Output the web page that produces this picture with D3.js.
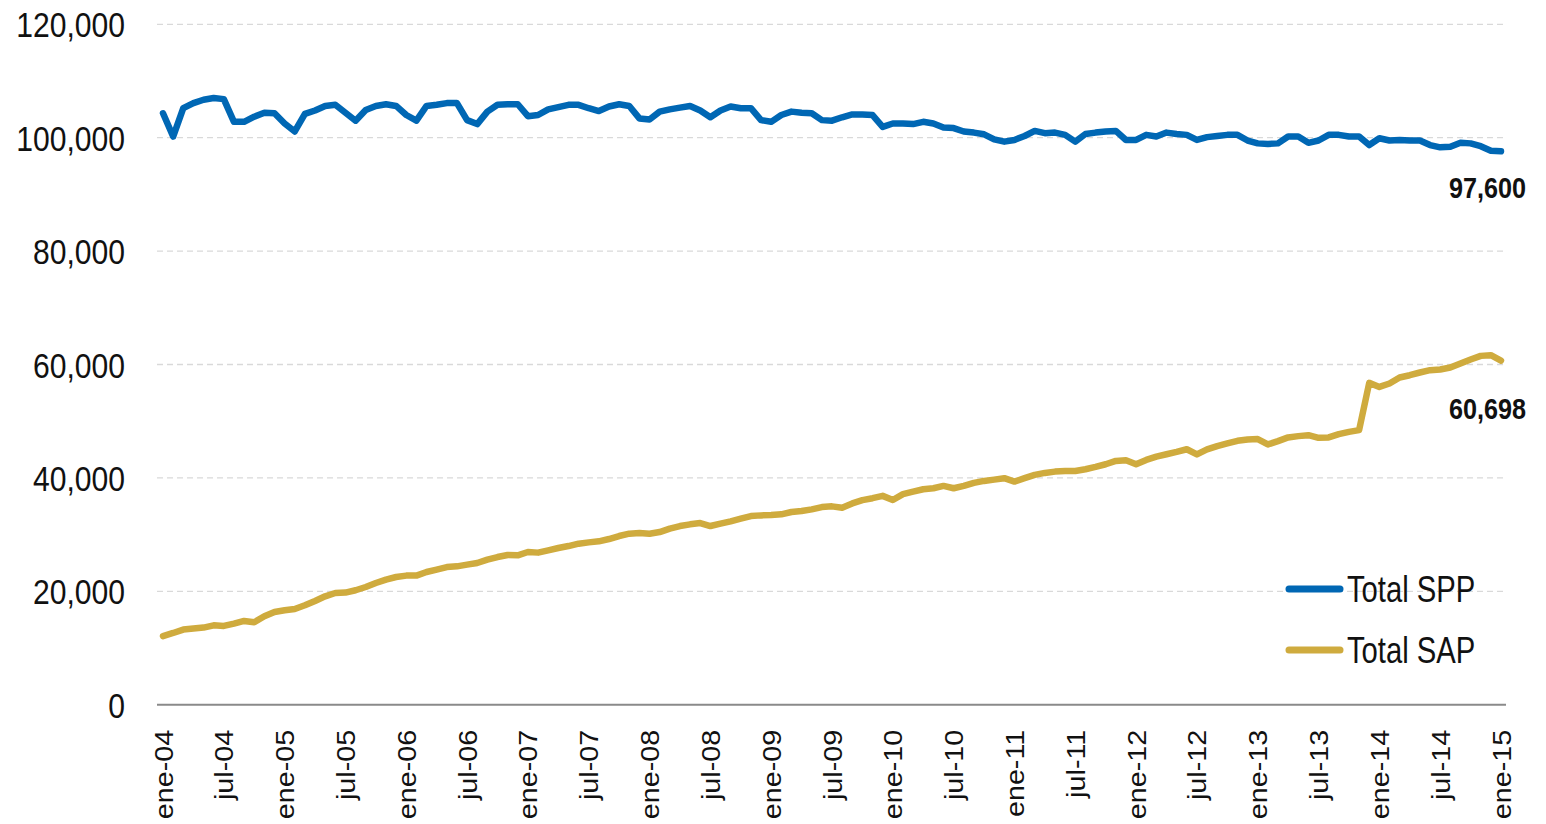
<!DOCTYPE html>
<html>
<head>
<meta charset="utf-8">
<script src="https://cdn.jsdelivr.net/npm/d3@7"></script>
<style>
  html, body { margin: 0; padding: 0; background: #fff; }
  svg { display: block; }
  text { font-family: "Liberation Sans", Arial, sans-serif; fill: #111; }
</style>
</head>
<body>
<svg id="chart" width="1546" height="824"></svg>
<script>
const monthNames = ["ene","feb","mar","abr","may","jun","jul","ago","sep","oct","nov","dic"];
const startYear = 2004, monthCount = 133;
const categories = d3.range(monthCount).map(i => monthNames[i % 12] + "-" + String((startYear + Math.floor(i / 12)) % 100).padStart(2, "0"));

const tickLabels = ["ene-04","jul-04","ene-05","jul-05","ene-06","jul-06","ene-07","jul-07","ene-08","jul-08","ene-09","jul-09","ene-10","jul-10","ene-11","jul-11","ene-12","jul-12","ene-13","jul-13","ene-14","jul-14","ene-15"];
const yTicks = [0, 20000, 40000, 60000, 80000, 100000, 120000];

const seriesNames = ["Total SPP", "Total SAP"];

const totalSPP = [
104300,100200,105200,106100,106700,107000,106800,102800,102800,103700,104400,104300,
102500,101100,104200,104800,105600,105800,104400,103000,104900,105600,105900,105600,
104000,103000,105600,105800,106100,106100,103100,102400,104600,105800,105900,105900,
103800,104000,105000,105400,105800,105800,105200,104700,105500,105900,105600,103400,
103200,104600,105000,105300,105600,104800,103600,104800,105500,105200,105200,103100,
102800,104000,104600,104400,104300,103100,103000,103600,104100,104100,104000,101900,
102500,102500,102400,102800,102500,101800,101700,101100,100900,100600,99700,99300,
99600,100300,101200,100800,100900,100500,99300,100650,100900,101100,101200,99600,
99600,100500,100200,100900,100650,100500,99600,100100,100300,100500,100500,99500,
99000,98900,99000,100200,100200,99100,99500,100500,100500,100200,100200,98700,
99900,99500,99600,99500,99500,98700,98300,98400,99100,99000,98500,97700,
97600];

const totalSAP = [
12100,12650,13250,13430,13600,14000,13890,14300,14770,14540,15600,16350,
16650,16880,17530,18300,19120,19700,19770,20180,20760,21460,22060,22520,
22770,22770,23400,23820,24280,24400,24700,24990,25580,26040,26400,26340,
26930,26820,27230,27630,27980,28400,28630,28810,29220,29750,30160,30270,
30160,30450,31050,31510,31810,32040,31510,31930,32340,32810,33270,33390,
33450,33570,33980,34150,34450,34850,34980,34750,35500,36070,36420,36830,
36100,37130,37590,38000,38180,38590,38180,38590,39120,39470,39700,39950,
39350,39950,40530,40880,41110,41230,41230,41530,41940,42410,43000,43110,
42410,43170,43750,44170,44580,45050,44150,45030,45600,46080,46540,46780,
46840,45900,46490,47140,47370,47540,47070,47140,47720,48120,48420,56760,
56050,56650,57710,58110,58590,59000,59120,59470,60180,60880,61520,61640,
60698];

const endLabels = ["97,600", "60,698"];
const colors = ["#0067b4", "#cfab3e"];

const svg = d3.select("#chart");
const W = 1546, H = 824;
svg.append("rect").attr("width", W).attr("height", H).attr("fill", "#fff");

const x = d3.scalePoint().domain(categories).range([163, 1501]);
const y = d3.scaleLinear().domain([0, 120000]).range([704.7, 24.3]);

// gridlines
svg.append("g").selectAll("line")
  .data(yTicks.filter(v => v > 0))
  .join("line")
  .attr("x1", 157).attr("x2", 1506)
  .attr("y1", d => y(d)).attr("y2", d => y(d))
  .attr("stroke", "#d9d9d9").attr("stroke-width", 1.3)
  .attr("stroke-dasharray", "6,4");

// y axis labels
const yAxis = d3.axisLeft(y).tickValues(yTicks).tickSize(0).tickPadding(0)
  .tickFormat(d3.format(","));
const yg = svg.append("g").attr("transform", "translate(125,0)").call(yAxis);
yg.select(".domain").remove();
yg.selectAll("text")
  .attr("font-size", 35)
  .attr("font-family", '"Liberation Sans", Arial, sans-serif')
  .attr("fill", "#111")
  .attr("x", 0)
  .attr("dy", "0.36em")
  .attr("transform", "scale(0.86,1)");

// x axis
const xAxis = d3.axisBottom(x).tickValues(tickLabels).tickSize(0).tickPadding(0);
const xg = svg.append("g").attr("transform", "translate(0,704.7)").call(xAxis);
xg.select(".domain").remove();
svg.append("line")
  .attr("x1", 157).attr("x2", 1506)
  .attr("y1", y(0)).attr("y2", y(0))
  .attr("stroke", "#8a8a8a").attr("stroke-width", 2);
xg.selectAll(".tick text")
  .attr("font-size", 25)
  .attr("font-family", '"Liberation Sans", Arial, sans-serif')
  .attr("fill", "#111")
  .attr("text-anchor", "end")
  .attr("y", 0).attr("dy", 0)
  .attr("transform", "translate(9,25) rotate(-90) scale(1.15,1)");

// lines
const seriesData = [totalSPP, totalSAP];
const line = d3.line()
  .x((d, i) => x(categories[i]))
  .y(d => y(d));

svg.append("g").selectAll("path")
  .data(seriesData)
  .join("path")
  .attr("d", d => line(d))
  .attr("fill", "none")
  .attr("stroke", (d, i) => colors[i])
  .attr("stroke-width", 6.5)
  .attr("stroke-linejoin", "round")
  .attr("stroke-linecap", "round");

// end labels
svg.append("g").selectAll("text")
  .data(seriesData)
  .join("text")
  .attr("x", 0).attr("y", 0)
  .attr("transform", (d, i) => `translate(1526,${y(d[d.length - 1]) + (i === 0 ? 36 : 48)}) scale(0.84,1)`)
  .attr("text-anchor", "end")
  .attr("font-size", 30)
  .attr("font-weight", "bold")
  .attr("fill", "#111")
  .attr("dy", "0.36em")
  .text((d, i) => endLabels[i]);

// legend
const legend = svg.append("g");
const legY = [589, 650];
seriesNames.forEach((name, i) => {
  legend.append("line")
    .attr("x1", 1289).attr("x2", 1340)
    .attr("y1", legY[i]).attr("y2", legY[i])
    .attr("stroke", colors[i]).attr("stroke-width", 7)
    .attr("stroke-linecap", "round");
  legend.append("text")
    .attr("x", 0).attr("y", 0)
    .attr("transform", `translate(1347,${legY[i]}) scale(0.79,1)`)
    .attr("dy", "0.36em")
    .attr("font-size", 37)
    .attr("fill", "#111")
    .text(name);
});
</script>
</body>
</html>
